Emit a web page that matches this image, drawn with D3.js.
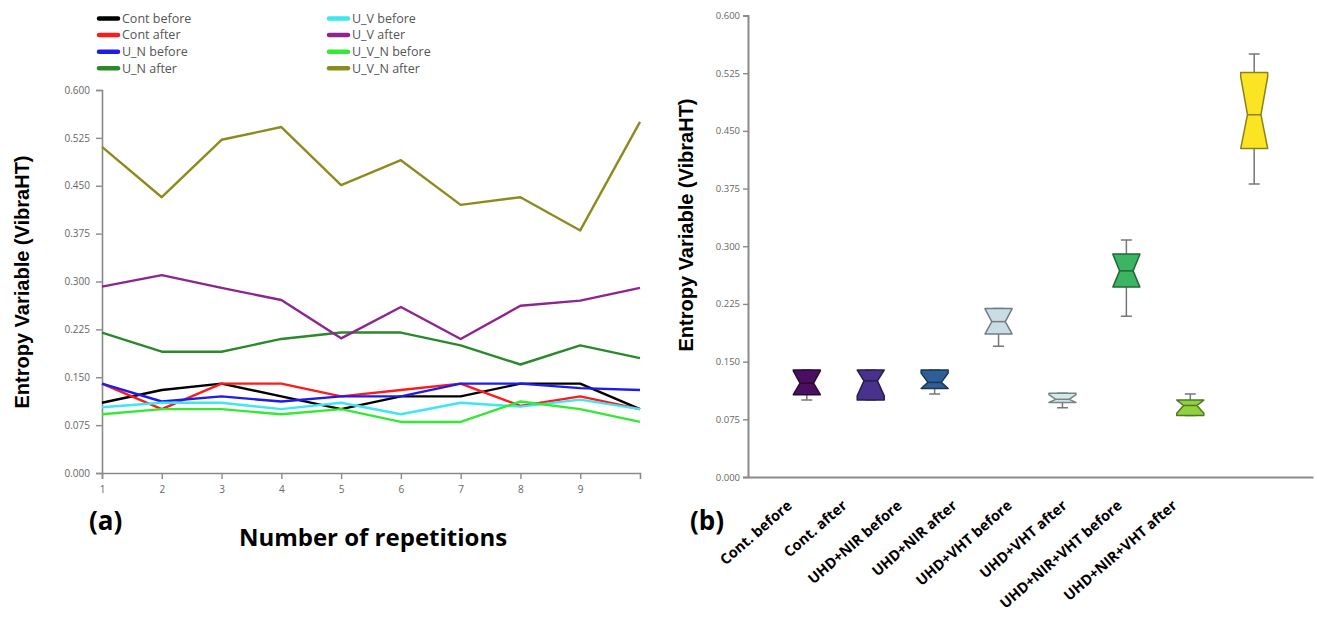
<!DOCTYPE html>
<html>
<head>
<meta charset="utf-8">
<script src="https://cdn.jsdelivr.net/npm/d3@7"></script>
<style>
  body { margin: 0; background: #fff; }
  svg { display: block; }
</style>
</head>
<body>
<div id="chart"></div>
<script>
// (a) entropy per repetition
var reps = [1, 2, 3, 4, 5, 6, 7, 8, 9, 10];
var repTicks = [1, 2, 3, 4, 5, 6, 7, 8, 9];
var seriesNames = ["Cont before", "Cont after", "U_N before", "U_N after",
                   "U_V before", "U_V after", "U_V_N before", "U_V_N after"];
var seriesColors = ["#000000", "#ff1a1a", "#1c1cf0", "#2a8a2a",
                    "#3de6f0", "#8e248e", "#33ea33", "#8c8c1e"];
var contBefore = [0.11, 0.13, 0.14, 0.12, 0.10, 0.12, 0.12, 0.14, 0.14, 0.10];
var contAfter  = [0.14, 0.10, 0.14, 0.14, 0.12, 0.13, 0.14, 0.105, 0.12, 0.10];
var unBefore   = [0.14, 0.112, 0.12, 0.112, 0.12, 0.12, 0.14, 0.14, 0.133, 0.13];
var unAfter    = [0.22, 0.19, 0.19, 0.21, 0.22, 0.22, 0.20, 0.17, 0.20, 0.18];
var uvBefore   = [0.103, 0.11, 0.11, 0.10, 0.11, 0.092, 0.11, 0.104, 0.115, 0.10];
var uvAfter    = [0.292, 0.31, 0.29, 0.271, 0.211, 0.26, 0.21, 0.262, 0.27, 0.29];
var uvnBefore  = [0.092, 0.10, 0.10, 0.092, 0.10, 0.08, 0.08, 0.112, 0.10, 0.08];
var uvnAfter   = [0.511, 0.432, 0.522, 0.542, 0.451, 0.49, 0.42, 0.432, 0.38, 0.55];
var seriesValues = [contBefore, contAfter, unBefore, unAfter,
                    uvBefore, uvAfter, uvnBefore, uvnAfter];

// (b) notched box plots
var groups = ["Cont. before", "Cont. after", "UHD+NIR before", "UHD+NIR after",
              "UHD+VHT before", "UHD+VHT after", "UHD+NIR+VHT before", "UHD+NIR+VHT after"];
var boxColors = ["#4b0f5f", "#48328c", "#2e5f96", "#c9dde6",
                 "#d3e9ea", "#3cb563", "#8fd13f", "#fbe424"];
var whiskerLow  = [0.100, 0.100, 0.108, 0.170, 0.090, 0.209, 0.080, 0.381];
var q1          = [0.107, 0.100, 0.115, 0.186, 0.097, 0.247, 0.080, 0.427];
var median      = [0.122, 0.125, 0.123, 0.202, 0.101, 0.268, 0.093, 0.471];
var q3          = [0.139, 0.139, 0.139, 0.219, 0.109, 0.290, 0.100, 0.526];
var whiskerHigh = [0.139, 0.139, 0.139, 0.219, 0.109, 0.308, 0.108, 0.550];
var sampleSize = 10;

var yTicks = [0, 0.075, 0.15, 0.225, 0.3, 0.375, 0.45, 0.525, 0.6];

var W = 1317, H = 617;
var svg = d3.select("#chart").append("svg")
    .attr("width", W)
    .attr("height", H);

var fmt = d3.format(".3f");

// ---------- panel (a) ----------
var xA = d3.scaleLinear().domain([1, 10]).range([102, 640]);
var yA = d3.scaleLinear().domain([0, 0.6]).range([473, 90]);

var gA = svg.append("g").attr("id", "panelA");

var axA_y = gA.append("g")
    .attr("transform", "translate(" + xA(1) + ",0)")
    .call(d3.axisLeft(yA).tickValues(yTicks).tickFormat(fmt).tickSize(6).tickPadding(6));
var axA_x = gA.append("g")
    .attr("transform", "translate(0," + yA(0) + ")")
    .call(d3.axisBottom(xA).tickValues(repTicks).tickFormat(d3.format("d")).tickSize(6).tickPadding(7));

[axA_y, axA_x].forEach(function (ax) {
    ax.select(".domain").attr("stroke", "#8a8a8a").attr("stroke-width", 1.6);
    ax.selectAll(".tick line").attr("stroke", "#8a8a8a").attr("stroke-width", 1.4);
    ax.selectAll(".tick text")
        .attr("fill", "#666")
        .style("font-family", "'Open Sans', sans-serif")
        .style("font-size", "10px");
});

var line = d3.line()
    .x(function (d, i) { return xA(reps[i]); })
    .y(function (d) { return yA(d); });

gA.selectAll("path.series")
    .data(seriesValues)
    .enter().append("path")
    .attr("class", "series")
    .attr("d", line)
    .attr("fill", "none")
    .attr("stroke", function (d, i) { return seriesColors[i]; })
    .attr("stroke-width", 2.4)
    .attr("stroke-linejoin", "round");

// legend (two columns of four)
var legend = gA.append("g").attr("id", "legend");
var legItems = legend.selectAll("g")
    .data(seriesNames)
    .enter().append("g")
    .attr("transform", function (d, i) {
        var col = Math.floor(i / 4), row = i % 4;
        return "translate(" + (col === 0 ? 99 : 329) + "," + (18.5 + row * 16.6) + ")";
    });
legItems.append("line")
    .attr("x1", 0).attr("x2", 19)
    .attr("stroke", function (d, i) { return seriesColors[i]; })
    .attr("stroke-width", 4.5)
    .attr("stroke-linecap", "round");
legItems.append("text")
    .attr("x", 23)
    .attr("dy", "0.35em")
    .attr("fill", "#555")
    .style("font-family", "'Open Sans', sans-serif")
    .style("font-size", "12.5px")
    .text(function (d) { return d; });

gA.append("text")
    .attr("transform", "translate(29,282) rotate(-90)")
    .attr("text-anchor", "middle")
    .style("font-family", "'Liberation Sans', Arial, sans-serif")
    .style("font-weight", "bold")
    .style("font-size", "20px")
    .text("Entropy Variable (VibraHT)");

gA.append("text")
    .attr("x", 89).attr("y", 530)
    .style("font-family", "'Open Sans', sans-serif")
    .style("font-weight", "bold")
    .style("font-size", "26px")
    .text("(a)");

gA.append("text")
    .attr("x", 373).attr("y", 546)
    .attr("text-anchor", "middle")
    .style("font-family", "'Open Sans', sans-serif")
    .style("font-weight", "bold")
    .style("font-size", "24px")
    .text("Number of repetitions");

// ---------- panel (b) ----------
var xB = d3.scalePoint().domain(groups).range([748, 1313]).padding(0.92);
var labelX = d3.scalePoint().domain(groups).range([793, 1178]);
var yB = d3.scaleLinear().domain([0, 0.6]).range([477, 15.5]);

var gB = svg.append("g").attr("id", "panelB");

var axB_y = gB.append("g")
    .attr("transform", "translate(748,0)")
    .call(d3.axisLeft(yB).tickValues(yTicks).tickFormat(fmt).tickSize(5).tickPadding(3));
axB_y.select(".domain").attr("stroke", "#8a8a8a").attr("stroke-width", 2);
axB_y.selectAll(".tick line").attr("stroke", "#8a8a8a").attr("stroke-width", 1.4);
axB_y.selectAll(".tick text")
    .attr("fill", "#666")
    .style("font-family", "'Open Sans', sans-serif")
    .style("font-size", "9.5px");

var axB_x = gB.append("g")
    .attr("transform", "translate(0," + yB(0) + ")")
    .call(d3.axisBottom(xB).tickSize(0).tickFormat(""));
axB_x.select(".domain").attr("stroke", "#8a8a8a").attr("stroke-width", 2);

var boxW = 27, capW = 11;
var boxes = gB.selectAll("g.box")
    .data(groups)
    .enter().append("g")
    .attr("class", "box");

// whiskers
boxes.append("path")
    .attr("d", function (d, i) {
        var cx = xB(d);
        return "M" + cx + "," + yB(whiskerHigh[i]) + "V" + yB(q3[i]) +
               "M" + cx + "," + yB(q1[i]) + "V" + yB(whiskerLow[i]) +
               "M" + (cx - capW / 2) + "," + yB(whiskerHigh[i]) + "h" + capW +
               "M" + (cx - capW / 2) + "," + yB(whiskerLow[i]) + "h" + capW;
    })
    .attr("fill", "none")
    .attr("stroke", "#777")
    .attr("stroke-width", 1.5);

// notched box
var boxLine = d3.line();
boxes.append("path")
    .attr("d", function (d, i) {
        var cx = xB(d), hw = boxW / 2, nw = boxW / 4;
        var notch = 1.58 * (q3[i] - q1[i]) / Math.sqrt(sampleSize);
        var nHi = Math.min(q3[i], median[i] + notch);
        var nLo = Math.max(q1[i], median[i] - notch);
        return boxLine([
            [cx - hw, yB(q3[i])], [cx + hw, yB(q3[i])], [cx + hw, yB(nHi)],
            [cx + nw, yB(median[i])], [cx + hw, yB(nLo)], [cx + hw, yB(q1[i])],
            [cx - hw, yB(q1[i])], [cx - hw, yB(nLo)], [cx - nw, yB(median[i])],
            [cx - hw, yB(nHi)]
        ]) + "Z";
    })
    .attr("fill", function (d, i) { return boxColors[i]; })
    .attr("stroke", function (d, i) { return d3.color(boxColors[i]).darker(1.6); })
    .attr("stroke-width", 1.5)
    .attr("stroke-linejoin", "round");

boxes.append("line")
    .attr("x1", function (d) { return xB(d) - boxW / 4; })
    .attr("x2", function (d) { return xB(d) + boxW / 4; })
    .attr("y1", function (d, i) { return yB(median[i]); })
    .attr("y2", function (d, i) { return yB(median[i]); })
    .attr("stroke", function (d, i) { return d3.color(boxColors[i]).darker(1.6); })
    .attr("stroke-width", 1.5);

gB.selectAll("text.grp")
    .data(groups)
    .enter().append("text")
    .attr("class", "grp")
    .attr("transform", function (d) { return "translate(" + labelX(d) + ",507) rotate(-41)"; })
    .attr("text-anchor", "end")
    .style("font-family", "'Open Sans', sans-serif")
    .style("font-weight", "bold")
    .style("font-size", "14.5px")
    .text(function (d) { return d; });

gB.append("text")
    .attr("transform", "translate(693,225) rotate(-90)")
    .attr("text-anchor", "middle")
    .style("font-family", "'Liberation Sans', Arial, sans-serif")
    .style("font-weight", "bold")
    .style("font-size", "20px")
    .text("Entropy Variable (VibraHT)");

gB.append("text")
    .attr("x", 690).attr("y", 530)
    .style("font-family", "'Open Sans', sans-serif")
    .style("font-weight", "bold")
    .style("font-size", "26px")
    .text("(b)");
</script>
</body>
</html>
